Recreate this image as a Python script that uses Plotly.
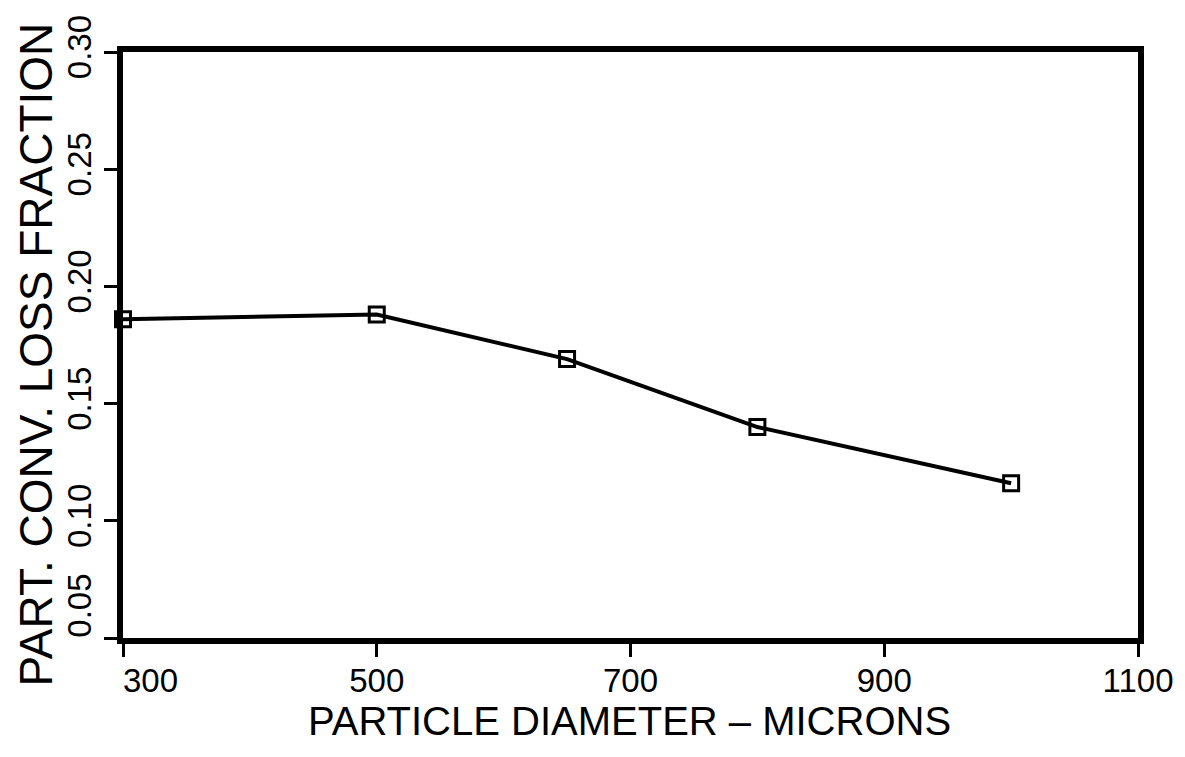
import plotly.graph_objects as go

# Particle diameter (microns) vs. particle conversion loss fraction
diameter = [300, 500, 650, 800, 1000]
loss_fraction = [0.186, 0.188, 0.169, 0.140, 0.116]

x_ticks = [300, 500, 700, 900, 1100]
x_tick_text = ["\u00a0" * 6 + "300", "500", "700", "900", "1100"]
y_ticks = [0.05, 0.10, 0.15, 0.20, 0.25, 0.30]
y_tick_text = ["\u00a0" * 6 + "0.05", "0.10", "0.15", "0.20", "0.25", "0.30"]

tick_font = dict(family="Liberation Sans, Arial, sans-serif", size=33, color="black")
title_font = "Liberation Sans, Arial, sans-serif"

fig = go.Figure()
fig.add_trace(go.Scatter(
    x=diameter,
    y=loss_fraction,
    mode="lines+markers",
    line=dict(color="black", width=4),
    marker=dict(symbol="square-open", size=15, color="black",
                line=dict(color="black", width=3)),
    cliponaxis=False,
    showlegend=False,
))

axis_common = dict(
    showline=True, linecolor="black", linewidth=6, mirror=True,
    showgrid=False, zeroline=False,
    ticks="outside", ticklen=13, tickwidth=3, tickcolor="black",
    tickfont=tick_font,
)

fig.update_xaxes(range=[300, 1100], tickvals=x_ticks, ticktext=x_tick_text,
                 ticklabelstandoff=-5, **axis_common)
fig.update_yaxes(range=[0.05, 0.30], tickvals=y_ticks, ticktext=y_tick_text,
                 tickangle=-90, **axis_common)

fig.update_layout(
    width=1185, height=757,
    margin=dict(l=123, r=42, t=52, b=119),
    paper_bgcolor="white", plot_bgcolor="white",
    annotations=[
        dict(text="PARTICLE DIAMETER \u2013 MICRONS", xref="paper", yref="paper",
             x=(632 - 123) / (1143 - 123), y=-(721 - 638) / (638 - 52),
             xanchor="center", yanchor="middle", showarrow=False,
             font=dict(family=title_font, size=40, color="black")),
        dict(text="PART. CONV. LOSS FRACTION", xref="paper", yref="paper",
             x=-(123 - 36) / (1143 - 123), y=(638 - 354) / (638 - 52),
             xanchor="center", yanchor="middle", textangle=-90, showarrow=False,
             font=dict(family=title_font, size=46, color="black")),
    ],
)

fig.write_html("out.html")
